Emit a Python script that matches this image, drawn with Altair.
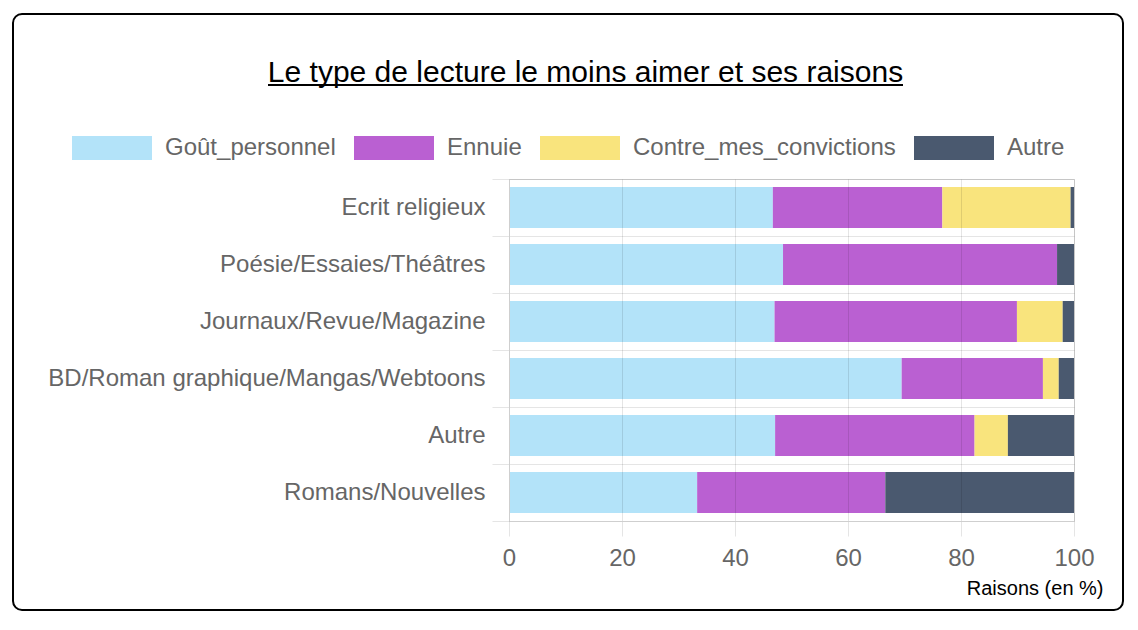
import altair as alt
import pandas as pd

TITRE = "Le type de lecture le moins aimer et ses raisons"
categories = [
    "Ecrit religieux",
    "Poésie/Essaies/Théâtres",
    "Journaux/Revue/Magazine",
    "BD/Roman graphique/Mangas/Webtoons",
    "Autre",
    "Romans/Nouvelles",
]
series = ["Goût_personnel", "Ennuie", "Contre_mes_convictions", "Autre"]
colors = ["#b3e3f9", "#ba60d2", "#f9e47d", "#4a596f"]
gout = [46.7, 48.5, 47.0, 69.5, 47.1, 33.3]
ennuie = [30.0, 48.5, 42.9, 25.0, 35.3, 33.3]
contre = [22.7, 0.0, 8.1, 2.8, 5.9, 0.0]
autre = [0.6, 3.0, 2.0, 2.7, 11.7, 33.4]
x_ticks = [0, 20, 40, 60, 80, 100]
x_title = "Raisons (en %)"

rows = []
for si, (name, vals) in enumerate(zip(series, [gout, ennuie, contre, autre])):
    for cat, v in zip(categories, vals):
        rows.append({"cat": cat, "serie": name, "value": v, "ordre": si})
df = pd.DataFrame(rows)

FONT = "Liberation Sans"

bars = alt.Chart(df).mark_bar(height=alt.RelativeBandSize(0.72)).encode(
    y=alt.Y(
        "cat:N",
        sort=categories,
        scale=alt.Scale(paddingInner=0, paddingOuter=0),
        axis=alt.Axis(
            title=None,
            tickBand="extent",
            tickSize=17,
            labelPadding=7,
            labelFontSize=24,
            labelFont=FONT,
            labelColor="#666666",
            labelLimit=600,
            grid=True,
            gridColor="#000000",
            gridOpacity=0.1,
            tickColor="#000000",
            tickOpacity=0.1,
            domainColor="#cfcfcf",
            zindex=1,
        ),
    ),
    x=alt.X(
        "value:Q",
        stack="zero",
        scale=alt.Scale(domain=[0, 100], nice=False),
        axis=alt.Axis(
            values=x_ticks,
            title=x_title,
            titleFont=FONT,
            titleFontSize=20,
            titleFontWeight="normal",
            titleColor="#000000",
            titleAlign="right",
            titleBaseline="alphabetic",
            titleX=594,
            titleY=73,
            tickSize=15,
            labelPadding=10,
            labelFontSize=24,
            labelFont=FONT,
            labelColor="#666666",
            labelFlush=False,
            grid=True,
            gridColor="#000000",
            gridOpacity=0.1,
            tickColor="#000000",
            tickOpacity=0.1,
            domainColor="#cfcfcf",
            zindex=1,
        ),
    ),
    color=alt.Color(
        "serie:N",
        scale=alt.Scale(domain=series, range=colors),
        legend=alt.Legend(
            title=None,
            orient="none",
            direction="horizontal",
            legendX=-437,
            legendY=-71,
            symbolType="M-1,-0.3H1V0.3H-1Z",
            symbolSize=6400,
            symbolStrokeWidth=0,
            symbolOpacity=1,
            labelFontSize=24,
            labelFont=FONT,
            labelColor="#666666",
            labelOffset=13,
            columnPadding=18,
            labelLimit=600,
            padding=0,
        ),
    ),
    order=alt.Order("ordre:Q", sort="ascending"),
)

titre = alt.Chart(pd.DataFrame({"t": [TITRE]})).mark_text(
    align="center", baseline="alphabetic", fontSize=30, font=FONT, color="#000000"
).encode(x=alt.value(76.5), y=alt.value(-97), text="t:N")

souligne = alt.Chart(pd.DataFrame({"t": [TITRE]})).mark_rule(
    color="#000000", strokeWidth=2
).encode(x=alt.value(-241), x2=alt.value(394), y=alt.value(-94))

cadre = alt.Chart(pd.DataFrame({"t": [TITRE]})).mark_rect(
    fillOpacity=0, stroke="#000000", strokeWidth=2, cornerRadius=9
).encode(x=alt.value(-496), x2=alt.value(614), y=alt.value(-165), y2=alt.value(431))

chart = alt.layer(cadre, bars, titre, souligne).properties(
    width=565,
    height=342,
    autosize=alt.AutoSizeParams(type="none"),
    padding={"left": 501, "top": 171, "right": 52, "bottom": 92},
).configure_view(stroke=None).configure(background="white")

chart.save("out.html", embed_options={"renderer": "svg", "actions": False})
